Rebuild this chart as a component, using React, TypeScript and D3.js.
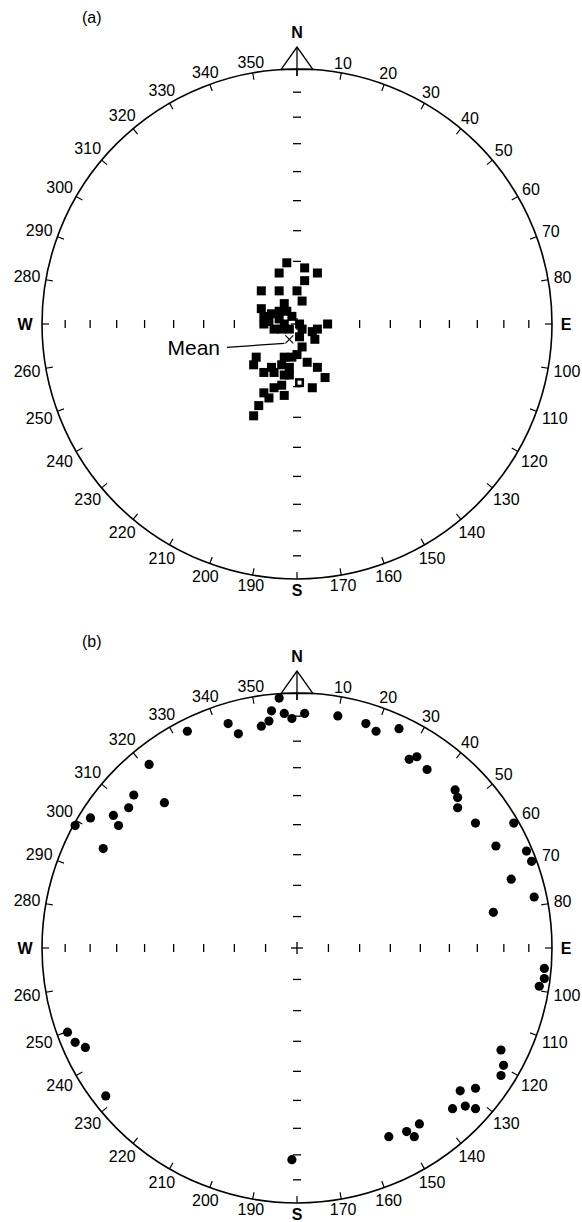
import React from 'react';
import * as d3 from 'd3';

const W = 582;
const H = 1222;
const R = 255;
const CX = 297;
const CY_A = 324;
const CY_B = 948;
const FONT = '"Liberation Sans", Arial, Helvetica, sans-serif';

// azimuth ticks round the primitive, every 10 degrees
const azimuths = d3.range(0, 360, 10);
// plunge marks along the N-S and W-E diameters (equal-area)
const plunges = [10, 20, 30, 40, 50, 60, 70, 80];

// (a) projected positions, % of net radius [east, north]
const squaresA: [number, number][] = [
  [-4, 24], [-7, 20], [3, 22], [8, 20], [3, 17], [-14, 13], [-7, 13], [0, 13],
  [2, 9], [-5, 8], [-14, 6], [-13, 3], [-10, 4], [-7, 5], [-4, 5], [-2, 3],
  [-13, 0], [-11, 1], [-7, 2], [-5, 0], [-9, -2], [-6, -2], [-3, -2], [1, 0],
  [2, -2], [6, -3], [8, -2], [12, 0], [7, -6], [2, -9], [1, -5], [-16, -13],
  [-17, -16], [-5, -13], [-2, -13], [0, -12], [-6, -16], [-3, -17], [-10, -17],
  [-13, -19], [-9, -19], [-5, -20], [-3, -20], [4, -15], [8, -17], [11, -21],
  [6, -25], [-6, -24], [-9, -25], [-5, -28], [-13, -27], [-11, -29], [-15, -32],
  [-17, -36],
];
const hollowA: [number, number][] = [[1, -23]];
const meanA: [number, number] = [-3, -6];

// (b) projected positions, % of net radius [east, north]
const dotsB: [number, number][] = [
  [-7, 98], [-10, 93], [-5, 92], [-2, 90], [3, 92], [-11, 89], [-14, 87], [-27, 88], [-23, 84],
  [-43, 85], [-58, 72], [-64, 60], [-66, 55], [-72, 52], [-70, 48], [-76, 39], [-52, 57],
  [-81, 51], [-87, 48],
  [16, 91], [27, 88], [31, 85], [40, 86], [44, 74], [47, 75], [51, 70], [62, 62], [63, 59],
  [63, 55], [70, 49], [85, 49], [78, 40], [90, 38], [92, 34], [84, 27], [93, 20], [77, 14],
  [97, -8], [97, -12], [95, -15],
  [-90, -33], [-87, -37], [-83, -39], [-75, -58], [-2, -83], [36, -74], [43, -72], [46, -74],
  [48, -69], [61, -63], [66, -62], [70, -63], [64, -56], [70, -55], [80, -40], [81, -46],
  [80, -50],
];

const rad = (d: number) => (d * Math.PI) / 180;
const equalArea = (p: number) => Math.SQRT2 * Math.sin(rad((90 - p) / 2)) * 100;

function Net({ cy, tag, children }: { cy: number; tag: string; children?: React.ReactNode }) {
  const x = d3.scaleLinear().domain([-100, 100]).range([CX - R, CX + R]);
  const y = d3.scaleLinear().domain([-100, 100]).range([cy + R, cy - R]);
  const fs = 16;
  const tick = 7;
  const labelAt = (az: number, txt: string, size: number) => {
    const s = Math.sin(rad(az));
    const c = Math.cos(rad(az));
    const w = txt.length * 0.556 * size;
    const h = 0.72 * size;
    const d = R + 2 + 3 * Math.abs(s) + (w / 2) * Math.abs(s) + (h / 2) * Math.abs(c);
    return [CX + d * s, cy - d * c];
  };
  const halfBase = 16;
  const baseY = cy - Math.sqrt(R * R - halfBase * halfBase);
  const apexY = cy - R - 22;
  return (
    <g>
      <text x={82} y={cy - R - 52} dy="0.36em" fontSize={16} fontFamily={FONT}>{tag}</text>
      <circle cx={CX} cy={cy} r={R} fill="none" stroke="#000" strokeWidth={1.6} />
      {azimuths.map(az => {
        const s = Math.sin(rad(az));
        const c = Math.cos(rad(az));
        return (
          <line key={az} x1={CX + R * s} y1={cy - R * c} x2={CX + (R - tick) * s} y2={cy - (R - tick) * c}
            stroke="#000" strokeWidth={1.2} />
        );
      })}
      {azimuths.filter(az => az % 90 !== 0).map(az => {
        const [lx, ly] = labelAt(az, String(az), fs);
        return (
          <text key={az} x={lx} y={ly} dy="0.36em" textAnchor="middle" fontSize={fs} fontFamily={FONT}>{az}</text>
        );
      })}
      <polygon points={`${CX - halfBase},${baseY} ${CX},${apexY} ${CX + halfBase},${baseY}`}
        fill="none" stroke="#000" strokeWidth={1.3} strokeLinejoin="round" />
      <line x1={CX} y1={apexY} x2={CX} y2={cy - R + tick} stroke="#000" strokeWidth={1.3} />
      <text x={CX} y={apexY - 15} dy="0.36em" textAnchor="middle" fontSize={16} fontWeight="bold" fontFamily={FONT}>N</text>
      <text x={CX} y={cy + R + 11} dy="0.36em" textAnchor="middle" fontSize={16} fontWeight="bold" fontFamily={FONT}>S</text>
      <text x={CX - R - 17} y={cy} dy="0.36em" textAnchor="middle" fontSize={16} fontWeight="bold" fontFamily={FONT}>W</text>
      <text x={CX + R + 14} y={cy} dy="0.36em" textAnchor="middle" fontSize={16} fontWeight="bold" fontFamily={FONT}>E</text>
      {plunges.flatMap(p => {
        const d = equalArea(p);
        return [-1, 1].flatMap(sg => [
          <line key={`ns${p}${sg}`} x1={x(0) - 4} x2={x(0) + 4} y1={y(sg * d)} y2={y(sg * d)} stroke="#000" strokeWidth={1.3} />,
          <line key={`we${p}${sg}`} x1={x(sg * d)} x2={x(sg * d)} y1={y(0) - 4} y2={y(0) + 4} stroke="#000" strokeWidth={1.3} />,
        ]);
      })}
      <line x1={x(0) - 6} x2={x(0) + 6} y1={y(0)} y2={y(0)} stroke="#000" strokeWidth={1.3} />
      <line x1={x(0)} x2={x(0)} y1={y(0) - 6} y2={y(0) + 6} stroke="#000" strokeWidth={1.3} />
      {children}
    </g>
  );
}

function PanelA() {
  const cy = CY_A;
  const x = d3.scaleLinear().domain([-100, 100]).range([CX - R, CX + R]);
  const y = d3.scaleLinear().domain([-100, 100]).range([cy + R, cy - R]);
  const sz = 9;
  const mx = x(meanA[0]);
  const my = y(meanA[1]);
  return (
    <Net cy={cy} tag="(a)">
      {squaresA.map(([e, n], i) => (
        <rect key={i} x={x(e) - sz / 2} y={y(n) - sz / 2} width={sz} height={sz} fill="#000" />
      ))}
      {hollowA.map(([e, n], i) => (
        <g key={`h${i}`}>
          <rect x={x(e) - sz / 2} y={y(n) - sz / 2} width={sz} height={sz} fill="#000" />
          <rect x={x(e) - 2} y={y(n) - 2} width={4} height={4} fill="#fff" />
        </g>
      ))}
      <g stroke="#fff" strokeWidth={3.5}>
        <line x1={mx - 4} y1={my - 4} x2={mx + 4} y2={my + 4} />
        <line x1={mx - 4} y1={my + 4} x2={mx + 4} y2={my - 4} />
      </g>
      <g stroke="#000" strokeWidth={1.2}>
        <line x1={mx - 4} y1={my - 4} x2={mx + 4} y2={my + 4} />
        <line x1={mx - 4} y1={my + 4} x2={mx + 4} y2={my - 4} />
        <line x1={227} y1={my + 8} x2={mx - 5} y2={my + 4} />
      </g>
      <text x={220} y={my + 8} dy="0.36em" textAnchor="end" fontSize={21} fontFamily={FONT}>Mean</text>
    </Net>
  );
}

function PanelB() {
  const cy = CY_B;
  const x = d3.scaleLinear().domain([-100, 100]).range([CX - R, CX + R]);
  const y = d3.scaleLinear().domain([-100, 100]).range([cy + R, cy - R]);
  return (
    <Net cy={cy} tag="(b)">
      {dotsB.map(([e, n], i) => (
        <circle key={i} cx={x(e)} cy={y(n)} r={4.6} fill="#000" />
      ))}
    </Net>
  );
}

export default function App() {
  return (
    <svg width={W} height={H} viewBox={`0 0 ${W} ${H}`}
      style={{ position: 'absolute', left: 0, top: 0, background: '#fff' }}>
      <PanelA />
      <PanelB />
    </svg>
  );
}
